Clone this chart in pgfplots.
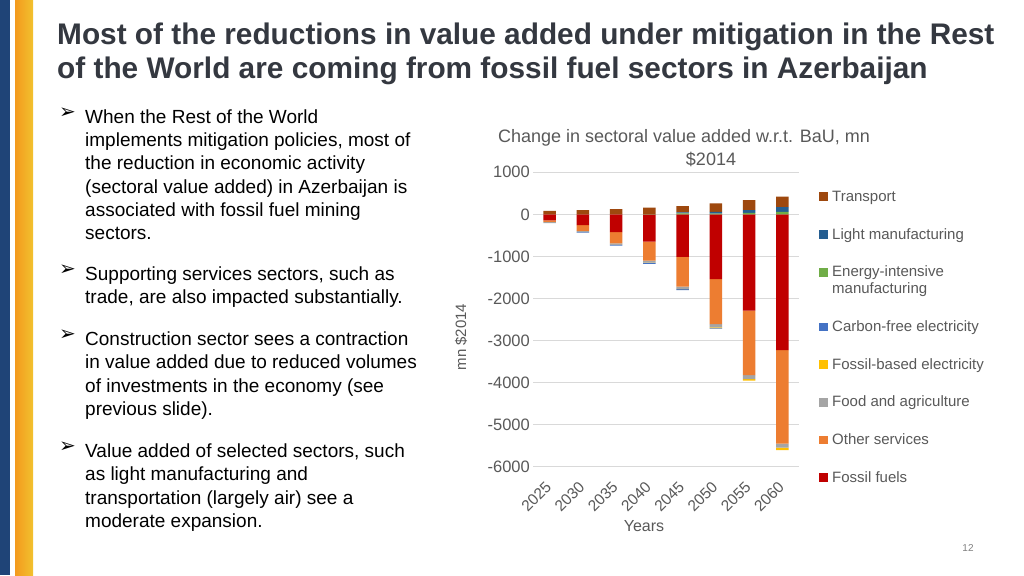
\documentclass[border=0pt]{standalone}
\usepackage{fontspec}
\setmainfont{Liberation Sans}
\newfontfamily\dejavu{DejaVu Sans}
\usepackage{pgfplots}
\pgfplotsset{compat=1.18}

\definecolor{cFossil}{HTML}{C00000}
\definecolor{cOther}{HTML}{ED7D31}
\definecolor{cFood}{HTML}{A5A5A5}
\definecolor{cFosEl}{HTML}{FFC000}
\definecolor{cCfEl}{HTML}{4472C4}
\definecolor{cEnInt}{HTML}{70AD47}
\definecolor{cLight}{HTML}{255E91}
\definecolor{cTrans}{HTML}{9E480E}
\definecolor{navy}{HTML}{1F4477}
\definecolor{stripeA}{HTML}{F39A1E}
\definecolor{stripeB}{HTML}{F2C12E}
\definecolor{titlegray}{HTML}{343840}
\definecolor{labgray}{HTML}{595959}
\definecolor{gridgray}{HTML}{D9D9D9}

\newcommand\fs[2]{\fontsize{#1}{#2}\selectfont}
\newcommand\arrowb{{\dejavu\fs{20}{22}➢}}

\pgfplotsset{
  base/.style={
    at={(533pt,-466.7pt)}, anchor=south west,
    scale only axis, width=266pt, height=294.4pt,
    xmin=-0.5, xmax=7.5, ymin=-6000, ymax=1000,
    ybar stacked, bar width=12.7pt,
    reverse legend,
    legend style={anchor=north west, draw=none, fill=none,
      inner sep=0pt, row sep=21.2pt, column sep=4pt,
      font=\fs{15}{16.5}, text=labgray,
      cells={anchor=base west},
      nodes={inner sep=0pt, text height=11.5pt, text depth=5pt}},
  },
  sq/.style={legend image code/.code={\fill[##1] (0pt,0.3pt) rectangle (9pt,9pt);}},
}

\begin{document}
\begin{tikzpicture}
\begin{scope}[x=1pt,y=-1pt]
  \path[use as bounding box, fill=white] (0,0) rectangle (1024,575);
  \fill[navy] (0,0) rectangle (10,575);
  \shade[left color=stripeA, right color=stripeB] (15,0) rectangle (33,575);

  % slide title
  \node[anchor=base west, inner sep=0pt, text=titlegray] at (57,45)
    {\parbox[t]{960pt}{\bfseries\fs{29.8}{33.3}Most of the reductions in value added under mitigation in the Rest\\
     of the World are coming from fossil fuel sectors in Azerbaijan}};

  % bullets
  \foreach \yb in {123.3,280.5,345.5,457.5}
    \node[inner sep=0pt] at (67.5,\yb-10) {\arrowb};
  \node[anchor=base west, inner sep=0pt] at (85,123.3)
    {\parbox[t]{360pt}{\fs{19}{23.3}When the Rest of the World\\
     implements mitigation policies, most of\\
     the reduction in economic activity\\
     (sectoral value added) in Azerbaijan is\\
     associated with fossil fuel mining\\
     sectors.}};
  \node[anchor=base west, inner sep=0pt] at (85,280.5)
    {\parbox[t]{360pt}{\fs{19}{23.3}Supporting services sectors, such as\\
     trade, are also impacted substantially.}};
  \node[anchor=base west, inner sep=0pt] at (85,345.5)
    {\parbox[t]{360pt}{\fs{19}{23.3}Construction sector sees a contraction\\
     in value added due to reduced volumes\\
     of investments in the economy (see\\
     previous slide).}};
  \node[anchor=base west, inner sep=0pt] at (85,457.5)
    {\parbox[t]{360pt}{\fs{19}{23.3}Value added of selected sectors, such\\
     as light manufacturing and\\
     transportation (largely air) see a\\
     moderate expansion.}};

  % chart title
  \node[anchor=base, inner sep=0pt, text=labgray, font=\fs{18}{20}] at (684,142.3)
    {Change in sectoral value added w.r.t. BaU, mn};
  \node[anchor=base, inner sep=0pt, text=labgray, font=\fs{18}{20}] at (711,165)
    {\$2014};

  % page number
  \node[inner sep=0pt, text=gray, font=\fs{10}{12}] at (968,548) {12};
\end{scope}

% negative parts, stacked downward from zero
\begin{axis}[base,
  xtick={0,...,7},
  xticklabels={2025,2030,2035,2040,2045,2050,2055,2060},
  ytick={-6000,-5000,...,1000},
  yticklabels={-6000,-5000,-4000,-3000,-2000,-1000,0,1000},
  axis line style={draw=none}, major tick length=0pt,
  ymajorgrids, grid style={gridgray, line width=0.8pt},
  tick label style={text=labgray},
  yticklabel style={font=\fs{16.5}{18}, anchor=east, inner sep=0pt, xshift=-3pt},
  xticklabel style={font=\fs{15.5}{17}, yshift=-17.5pt, xshift=-1pt,
    rotate=45, anchor=east, inner sep=0pt},
  ylabel={mn \$2014},
  ylabel style={at={(axis description cs:-0.2707,0.4405)}, anchor=center,
    font=\fs{15}{17}, text=labgray, inner sep=0pt},
  xlabel={Years},
  xlabel style={at={(axis description cs:0.4173,-0.2014)}, anchor=center,
    font=\fs{16}{18}, text=labgray, inner sep=0pt},
  legend style={at={(1.0752,0.499)}},
]
\addplot[fill=cFossil, draw=none, sq] coordinates
  {(0,-140) (1,-255) (2,-420) (3,-650) (4,-1010) (5,-1540) (6,-2290) (7,-3230)};
\addplot[fill=cOther, draw=none, sq] coordinates
  {(0,-40) (1,-140) (2,-270) (3,-450) (4,-710) (5,-1070) (6,-1530) (7,-2220)};
\addplot[fill=cFood, draw=none, sq] coordinates
  {(0,-30) (1,-25) (2,-35) (3,-50) (4,-50) (5,-75) (6,-95) (7,-95)};
\addplot[fill=cFosEl, draw=none, sq] coordinates
  {(0,0) (1,0) (2,0) (3,-5) (4,-5) (5,-20) (6,-40) (7,-60)};
\addplot[fill=cCfEl, draw=none, sq] coordinates
  {(0,0) (1,-15) (2,-20) (3,-20) (4,-25) (5,-10) (6,0) (7,0)};
\legend{Fossil fuels, Other services, Food and agriculture,
  Fossil-based electricity, Carbon-free electricity}
\end{axis}

% positive parts, stacked upward from zero
\begin{axis}[base, hide axis,
  legend style={at={(1.0752,0.9406)}},
]
\addplot[fill=cEnInt, draw=none, sq] coordinates
  {(0,0) (1,0) (2,0) (3,8) (4,25) (5,20) (6,35) (7,60)};
\addplot[fill=cLight, draw=none, sq] coordinates
  {(0,0) (1,0) (2,0) (3,0) (4,20) (5,40) (6,65) (7,110)};
\addplot[fill=cTrans, draw=none, sq] coordinates
  {(0,85) (1,100) (2,126) (3,150) (4,153) (5,200) (6,240) (7,250)};
\legend{{\vtop{\hbox{\strut Energy-intensive}\hbox{\strut manufacturing}}},
  Light manufacturing, Transport}
\end{axis}
\end{tikzpicture}
\end{document}
